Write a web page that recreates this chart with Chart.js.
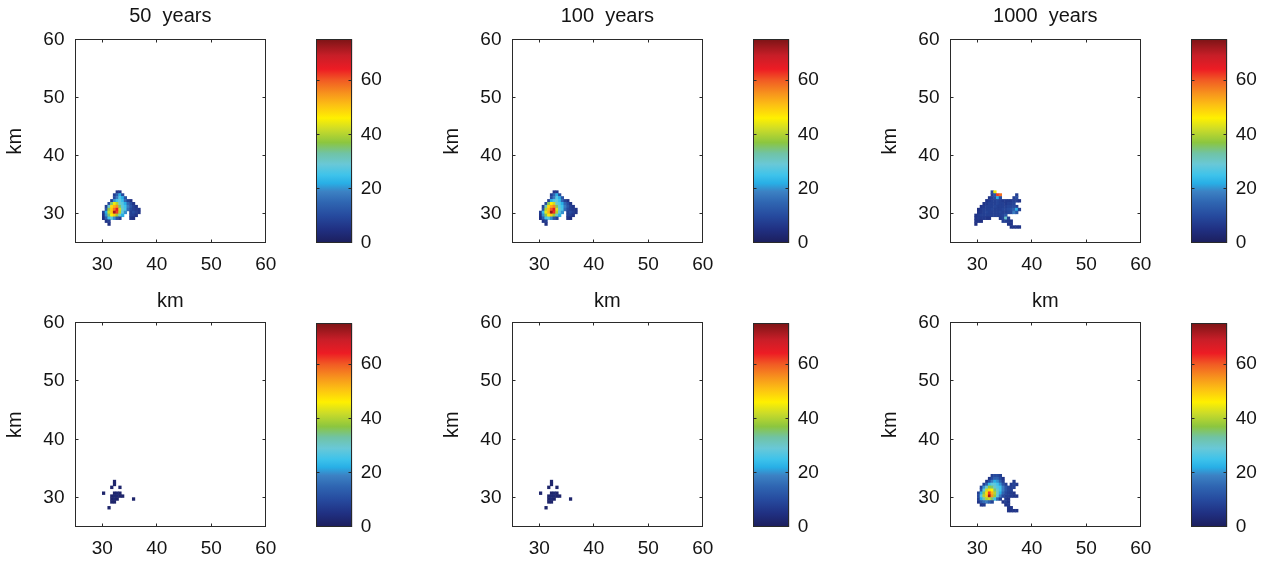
<!DOCTYPE html>
<html><head><meta charset="utf-8">
<script src="https://cdn.jsdelivr.net/npm/chart.js@4/dist/chart.umd.min.js"></script>
<style>
html,body{margin:0;padding:0;background:#fff;}
#wrap{position:relative;width:1272px;height:562px;overflow:hidden;background:#fff;}
canvas{position:absolute;}
</style></head><body><div id="wrap"></div>
<script>
// ---------------- data ----------------
const panelTitles = ['50  years', '100  years', '1000  years', 'km', 'km', 'km'];
const axisLabel = 'km';
const xTicks = [30, 40, 50, 60];
const yTicks = [30, 40, 50, 60];
const cbTicks = [0, 20, 40, 60];
const xRange = [25, 60];
const yRange = [25, 60];
const cbRange = [0, 75];
const cellSize = 0.5;
// column centres (km) and row centres (km, top to bottom) of the cell grid
const gridX = [29.75, 30.25, 30.75, 31.25, 31.75, 32.25, 32.75, 33.25, 33.75, 34.25, 34.75, 35.25, 35.75, 36.25, 36.75, 37.25, 37.75, 38.25];
const gridY = [33.75, 33.25, 32.75, 32.25, 31.75, 31.25, 30.75, 30.25, 29.75, 29.25, 28.75, 28.25, 27.75];

// 0 = empty cell
const z50 = [
  [0,0,0,0,0,0,6,6,0,0,0,0,0,0,0,0,0,0],
  [0,0,0,0,0,8,14,22,10,0,0,0,0,0,0,0,0,0],
  [0,0,0,0,0,10,18,26,22,12,0,0,0,0,0,0,0,0],
  [0,0,0,0,8,20,25,28,24,15,8,5,0,0,0,0,0,0],
  [0,0,0,10,35,45,40,30,27,22,15,10,6,0,0,0,0,0],
  [0,0,8,30,48,52,55,35,28,25,18,12,8,6,0,0,0,0],
  [0,0,12,38,50,58,65,42,30,26,16,10,8,7,6,0,0,0],
  [0,8,22,42,50,72,62,40,28,20,0,8,10,8,6,0,0,0],
  [0,6,20,35,46,50,38,30,22,0,0,8,8,6,0,0,0,0],
  [0,5,14,25,28,20,12,8,0,0,0,6,5,0,0,0,0,0],
  [0,0,6,8,0,0,0,0,0,0,0,0,0,0,0,0,0,0],
  [0,0,0,5,0,0,0,0,0,0,0,0,0,0,0,0,0,0],
  [0,0,0,0,0,0,0,0,0,0,0,0,0,0,0,0,0,0]
];
const z100 = [
  [0,0,0,0,0,0,6,6,0,0,0,0,0,0,0,0,0,0],
  [0,0,0,0,0,8,15,22,10,0,0,0,0,0,0,0,0,0],
  [0,0,0,0,0,10,18,27,22,12,0,0,0,0,0,0,0,0],
  [0,0,0,0,8,22,26,28,24,15,8,5,0,0,0,0,0,0],
  [0,0,0,10,36,46,42,30,27,22,15,10,6,0,0,0,0,0],
  [0,0,8,32,48,53,56,36,28,25,18,12,8,6,0,0,0,0],
  [0,0,12,40,51,60,66,43,30,26,16,10,8,7,6,0,0,0],
  [0,8,24,44,52,73,63,40,28,20,0,8,10,8,6,0,0,0],
  [0,6,20,36,47,50,38,30,22,0,0,8,8,6,0,0,0,0],
  [0,5,14,25,28,20,12,8,0,0,0,6,5,0,0,0,0,0],
  [0,0,6,8,0,0,0,0,0,0,0,0,0,0,0,0,0,0],
  [0,0,0,5,0,0,0,0,0,0,0,0,0,0,0,0,0,0],
  [0,0,0,0,0,0,0,0,0,0,0,0,0,0,0,0,0,0]
];
const z1000 = [
  [0,0,0,0,0,0,10,45,0,0,0,0,0,0,0,0,0,0],
  [0,0,0,0,0,0,8,12,62,58,0,0,0,0,0,8,0,0],
  [0,0,0,0,0,6,8,10,22,10,0,0,0,0,8,10,0,0],
  [0,0,0,0,6,7,8,8,9,8,7,7,7,7,8,8,6,0],
  [0,0,0,6,7,8,8,8,9,8,8,7,8,8,9,0,0,0],
  [0,0,6,7,8,8,8,9,8,8,8,8,9,9,10,8,0,0],
  [0,5,7,8,8,8,9,8,8,8,9,9,10,11,14,22,8,0],
  [0,6,7,8,9,8,8,8,8,9,8,8,9,10,18,12,0,0],
  [6,7,8,8,8,8,8,8,8,8,9,12,0,0,0,0,0,0],
  [6,7,7,7,6,6,0,0,0,7,9,30,8,0,0,0,0,0],
  [6,6,5,0,0,0,0,0,0,0,8,8,7,6,0,0,0,0],
  [5,0,0,0,0,0,0,0,0,0,0,0,6,6,0,0,0,0],
  [0,0,0,0,0,0,0,0,0,0,0,0,0,6,6,6,6,0]
];
const zb50 = [
  [0,0,0,0,0,0,0,0,0,0,0,0,0,0,0,0,0,0],
  [0,0,0,0,0,0,0,0,0,0,0,0,0,0,0,0,0,0],
  [0,0,0,0,0,2,0,0,0,0,0,0,0,0,0,0,0,0],
  [0,0,0,0,0,2,0,0,0,0,0,0,0,0,0,0,0,0],
  [0,0,0,0,2,0,0,2,0,0,0,0,0,0,0,0,0,0],
  [0,0,0,0,0,0,0,0,0,0,0,0,0,0,0,0,0,0],
  [0,2,0,0,0,2,3,2,0,0,0,0,0,0,0,0,0,0],
  [0,0,0,0,2,3,3,2,2,0,0,0,0,0,0,0,0,0],
  [0,0,0,0,2,3,2,0,0,0,0,0,2,0,0,0,0,0],
  [0,0,0,0,2,2,0,0,0,0,0,0,0,0,0,0,0,0],
  [0,0,0,0,0,0,0,0,0,0,0,0,0,0,0,0,0,0],
  [0,0,0,2,0,0,0,0,0,0,0,0,0,0,0,0,0,0],
  [0,0,0,0,0,0,0,0,0,0,0,0,0,0,0,0,0,0]
];
const zb100 = [
  [0,0,0,0,0,0,0,0,0,0,0,0,0,0,0,0,0,0],
  [0,0,0,0,0,0,0,0,0,0,0,0,0,0,0,0,0,0],
  [0,0,0,0,0,2,0,0,0,0,0,0,0,0,0,0,0,0],
  [0,0,0,0,0,2,0,0,0,0,0,0,0,0,0,0,0,0],
  [0,0,0,0,2,0,0,2,0,0,0,0,0,0,0,0,0,0],
  [0,0,0,0,0,0,0,0,0,0,0,0,0,0,0,0,0,0],
  [0,2,0,0,0,2,3,2,0,0,0,0,0,0,0,0,0,0],
  [0,0,0,0,2,3,3,2,2,0,0,0,0,0,0,0,0,0],
  [0,0,0,0,2,3,2,0,0,0,0,0,2,0,0,0,0,0],
  [0,0,0,0,2,2,0,0,0,0,0,0,0,0,0,0,0,0],
  [0,0,0,0,0,0,0,0,0,0,0,0,0,0,0,0,0,0],
  [0,0,0,2,0,0,0,0,0,0,0,0,0,0,0,0,0,0],
  [0,0,0,0,0,0,0,0,0,0,0,0,0,0,0,0,0,0]
];
const zb1000 = [
  [0,0,0,0,0,0,8,10,10,8,0,0,0,0,0,0,0,0],
  [0,0,0,0,0,6,10,14,14,10,6,0,0,0,0,0,0,0],
  [0,0,0,0,6,10,18,22,20,14,8,0,0,0,7,0,0,0],
  [0,0,0,8,14,24,28,28,25,20,12,8,0,7,9,7,0,0],
  [0,0,8,20,30,38,35,30,27,25,18,12,9,8,8,0,0,0],
  [0,0,12,28,42,48,46,35,30,25,18,12,9,8,0,0,0,0],
  [0,8,22,36,48,62,52,40,30,22,15,10,8,7,6,0,0,0],
  [0,10,28,40,50,72,55,38,28,18,10,8,8,7,6,6,0,0],
  [0,8,22,32,40,42,35,25,15,8,0,7,6,0,0,0,0,0],
  [0,6,12,16,18,14,9,0,0,0,6,8,6,0,0,0,0,0],
  [0,0,6,7,0,0,0,0,0,0,0,6,7,0,0,0,0,0],
  [0,0,0,0,0,0,0,0,0,0,0,0,6,6,0,0,0,0],
  [0,0,0,0,0,0,0,0,0,0,0,0,6,6,6,6,0,0]
];
const panelGrids = [z50, z100, z1000, zb50, zb100, zb1000];

// ---------------- style ----------------
const FONT = "'Liberation Sans', Arial, Helvetica, sans-serif";
const TXT = '#141414';
const cmapStops = [
  [0, [28,30,92]], [5, [32,48,130]], [10, [38,74,158]], [15, [47,102,178]],
  [19, [60,130,196]], [22, [40,175,230]], [25, [62,195,235]], [29, [105,200,215]],
  [33, [112,195,165]], [37, [140,198,63]], [42, [205,220,40]], [46, [255,240,0]],
  [51, [252,190,20]], [55, [247,148,29]], [60, [241,90,36]], [64, [237,28,36]],
  [69, [200,30,40]], [75, [125,20,22]]
];
function colorFor(v) {
  v = Math.max(cbRange[0], Math.min(cbRange[1], v));
  for (let i = 1; i < cmapStops.length; i++) {
    const [v1, c1] = cmapStops[i];
    const [v0, c0] = cmapStops[i - 1];
    if (v <= v1) {
      const t = (v - v0) / (v1 - v0);
      const c = c0.map((a, k) => Math.round(a + (c1[k] - a) * t));
      return `rgb(${c[0]},${c[1]},${c[2]})`;
    }
  }
  const c = cmapStops[cmapStops.length - 1][1];
  return `rgb(${c[0]},${c[1]},${c[2]})`;
}

function cellsFrom(z) {
  const pts = [];
  z.forEach((row, j) => row.forEach((v, i) => {
    if (v > 0) pts.push({ x: gridX[i], y: gridY[j], v: v });
  }));
  return pts;
}

const heatPlugin = {
  id: 'heat',
  afterDatasetsDraw(chart) {
    const { ctx, chartArea: a, scales: { x, y } } = chart;
    ctx.save();
    ctx.beginPath(); ctx.rect(a.left, a.top, a.width, a.height); ctx.clip();
    const h = cellSize / 2;
    chart.data.datasets.forEach((ds, di) => {
      const meta = chart.getDatasetMeta(di);
      meta.data.forEach((el, k) => {
        const p = ds.data[k];
        const x0 = x.getPixelForValue(p.x - h), x1 = x.getPixelForValue(p.x + h);
        const y0 = y.getPixelForValue(p.y + h), y1 = y.getPixelForValue(p.y - h);
        ctx.fillStyle = colorFor(p.v);
        ctx.fillRect(x0 - 0.25, y0 - 0.25, x1 - x0 + 0.5, y1 - y0 + 0.5);
      });
    });
    ctx.restore();
  }
};

function px(v) { return Math.floor(v) + 0.5; }

const framePlugin = {
  id: 'frame',
  afterDraw(chart) {
    const { ctx, chartArea: a, scales } = chart;
    const L = px(a.left), R = px(a.right - 0.5), T = px(a.top), B = px(a.bottom - 0.5);
    ctx.save();
    ctx.strokeStyle = '#2a2a2a'; ctx.lineWidth = 1;
    ctx.strokeRect(L, T, R - L, B - T);
    const tl = 3;
    ctx.beginPath();
    if (scales.x && scales.x.options.display !== false) {
      xTicks.forEach(v => {
        const p = px(scales.x.getPixelForValue(v));
        ctx.moveTo(p, B); ctx.lineTo(p, B - tl);
        ctx.moveTo(p, T); ctx.lineTo(p, T + tl);
      });
    }
    const yVals = chart.config.type === 'bar' ? cbTicks.slice(1) : yTicks;
    yVals.forEach(v => {
      const p = px(scales.y.getPixelForValue(v));
      ctx.moveTo(L, p); ctx.lineTo(L + tl, p);
      ctx.moveTo(R, p); ctx.lineTo(R - tl, p);
    });
    ctx.stroke();
    ctx.restore();
  }
};

function cbGradient(chart) {
  const a = chart.chartArea;
  if (!a) return colorFor(40);
  const ys = chart.scales.y;
  const g = chart.ctx.createLinearGradient(0, ys.getPixelForValue(cbRange[0]), 0, ys.getPixelForValue(cbRange[1]));
  cmapStops.forEach(([v, c]) => {
    g.addColorStop((v - cbRange[0]) / (cbRange[1] - cbRange[0]), `rgb(${c[0]},${c[1]},${c[2]})`);
  });
  return g;
}

// ---------------- layout ----------------
const colLeft = [0, 437, 875];
const rowLayout = [
  { top: 0,   titlePad: { top: 4.6, bottom: 10.7 }, xAxisH: 37,   cbTop: 39.3, cbBottom: 37 },
  { top: 283, titlePad: { top: 6.7, bottom: 9.0 },  xAxisH: 36.3, cbTop: 40.3, cbBottom: 36 }
];
const wrap = document.getElementById('wrap');

function makeCanvas(left, top, w, h) {
  const c = document.createElement('canvas');
  c.width = w; c.height = h;
  c.style.left = left + 'px'; c.style.top = top + 'px';
  c.style.width = w + 'px'; c.style.height = h + 'px';
  wrap.appendChild(c);
  return c;
}

panelGrids.forEach((z, idx) => {
  const row = rowLayout[Math.floor(idx / 3)];
  const left = colLeft[idx % 3];

  const hc = makeCanvas(left, row.top, 290, 280);
  new Chart(hc, {
    type: 'scatter',
    data: { datasets: [{ data: cellsFrom(z), pointRadius: 0, pointHoverRadius: 0 }] },
    options: {
      responsive: false, animation: false, events: [], devicePixelRatio: 1,
      layout: { padding: { left: 0, right: 24.3, top: 0, bottom: 0 } },
      plugins: {
        legend: { display: false }, tooltip: { enabled: false },
        title: {
          display: true, text: panelTitles[idx], fullSize: false, color: TXT,
          font: { family: FONT, size: 20, weight: 'normal', lineHeight: 1.2 },
          padding: row.titlePad
        }
      },
      scales: {
        x: {
          type: 'linear', min: xRange[0], max: xRange[1],
          afterBuildTicks: s => { s.ticks = xTicks.map(v => ({ value: v })); },
          afterFit: s => { s.height = row.xAxisH; },
          grid: { display: false, drawTicks: false }, border: { display: false },
          ticks: { padding: 10.5, color: TXT, font: { family: FONT, size: 19, lineHeight: 1.2 }, maxRotation: 0, autoSkip: false }
        },
        y: {
          type: 'linear', min: yRange[0], max: yRange[1],
          afterBuildTicks: s => { s.ticks = yTicks.map(v => ({ value: v })); },
          afterFit: s => { s.width = 75; },
          grid: { display: false, drawTicks: false }, border: { display: false },
          ticks: { padding: 10.5, color: TXT, font: { family: FONT, size: 19, lineHeight: 1.2 }, autoSkip: false },
          title: { display: true, text: axisLabel, color: TXT, font: { family: FONT, size: 20, lineHeight: 1.2 }, padding: { top: 3.5, bottom: 0 } }
        }
      }
    },
    plugins: [heatPlugin, framePlugin]
  });

  const cc = makeCanvas(left + 300, row.top, 100, 280);
  new Chart(cc, {
    type: 'bar',
    data: {
      labels: [''],
      datasets: [{
        data: [[cbRange[0], cbRange[1]]],
        backgroundColor: ctx => cbGradient(ctx.chart),
        borderWidth: 0, barPercentage: 1, categoryPercentage: 1
      }]
    },
    options: {
      responsive: false, animation: false, events: [], devicePixelRatio: 1,
      layout: { padding: { left: 16.7, right: 0, top: row.cbTop, bottom: row.cbBottom } },
      plugins: { legend: { display: false }, tooltip: { enabled: false } },
      scales: {
        x: { display: false },
        y: {
          position: 'right', min: cbRange[0], max: cbRange[1],
          afterBuildTicks: s => { s.ticks = cbTicks.map(v => ({ value: v })); },
          afterFit: s => { s.width = 47.7; },
          grid: { display: false, drawTicks: false }, border: { display: false },
          ticks: { padding: 8.5, color: TXT, font: { family: FONT, size: 19, lineHeight: 1.2 }, autoSkip: false }
        }
      }
    },
    plugins: [framePlugin]
  });
});
</script></body></html>
